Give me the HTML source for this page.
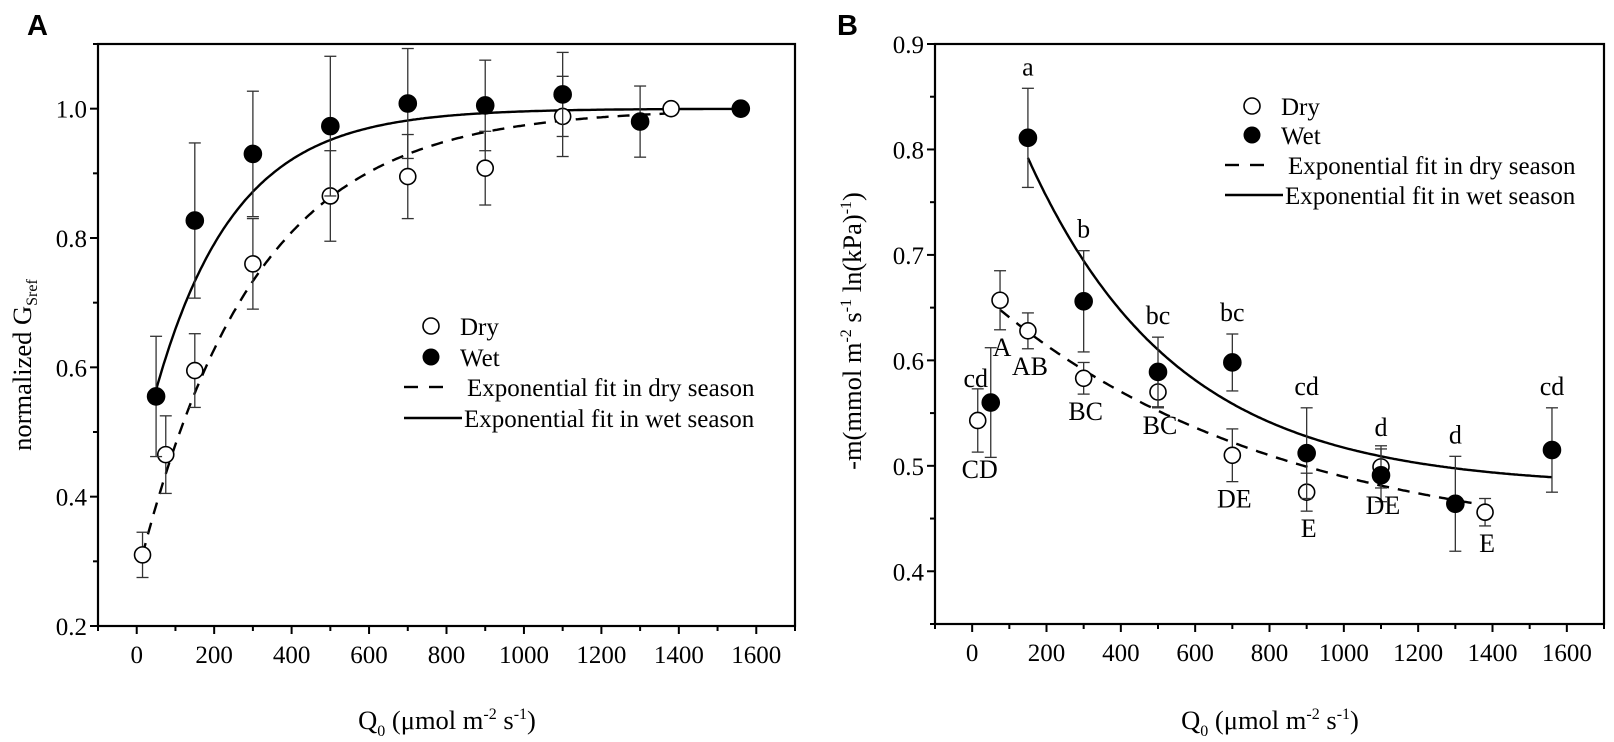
<!DOCTYPE html>
<html><head><meta charset="utf-8">
<style>
html,body{margin:0;padding:0;background:#fff;}
svg{display:block;font-family:"Liberation Serif",serif;}
.pl{font-family:"Liberation Sans",sans-serif;font-weight:bold;font-size:29px;}
</style></head>
<body>
<svg id="fig" width="1614" height="742" viewBox="0 0 1614 742" xmlns="http://www.w3.org/2000/svg"></svg>
<script>
// ---------- Panel A data ----------
const aDryX   = [15, 75, 150, 300, 500, 700, 900, 1100, 1380];
const aDryY   = [0.31, 0.465, 0.595, 0.76, 0.865, 0.895, 0.908, 0.988, 1.0];
const aDryErr = [0.035, 0.06, 0.057, 0.07, 0.07, 0.065, 0.057, 0.062, 0];
const aWetX   = [50, 150, 300, 500, 700, 900, 1100, 1300, 1560];
const aWetY   = [0.555, 0.827, 0.93, 0.973, 1.008, 1.005, 1.022, 0.98, 1.0];
const aWetErr = [0.093, 0.12, 0.097, 0.108, 0.085, 0.07, 0.065, 0.055, 0];
// fit params: y = c - a*exp(-x/t)  [c, a, t, xStart, xEnd]
const aDryFit = [1.0, 0.725, 300, 15, 1380];
const aWetFit = [1.0, 0.555, 205, 50, 1560];
const aYTicks = [0.2, 0.4, 0.6, 0.8, 1.0];
const aYLabels = ["0.2", "0.4", "0.6", "0.8", "1.0"];
// ---------- Panel B data ----------
const bDryX   = [15, 75, 150, 300, 500, 700, 900, 1100, 1380];
const bDryY   = [0.543, 0.657, 0.628, 0.583, 0.57, 0.51, 0.475, 0.499, 0.456];
const bDryErr = [0.03, 0.028, 0.017, 0.015, 0.015, 0.025, 0.018, 0.02, 0.013];
const bDryLab = ["CD", "A", "AB", "BC", "BC", "DE", "E", "DE", "E"];
const bWetX   = [50, 150, 300, 500, 700, 900, 1100, 1300, 1560];
const bWetY   = [0.56, 0.811, 0.656, 0.589, 0.598, 0.512, 0.491, 0.464, 0.515];
const bWetErr = [0.052, 0.047, 0.048, 0.033, 0.027, 0.043, 0.025, 0.045, 0.04];
const bWetLab = ["cd", "a", "b", "bc", "bc", "cd", "d", "d", "cd"];
// fit params: y = c + a*exp(-x/t)
const bDryFit = [0.42, 0.251, 780, 75, 1350];
const bWetFit = [0.48, 0.454, 400, 150, 1560];
const bYTicks = [0.4, 0.5, 0.6, 0.7, 0.8, 0.9];
const bYLabels = ["0.4", "0.5", "0.6", "0.7", "0.8", "0.9"];
const xTicks = [0, 200, 400, 600, 800, 1000, 1200, 1400, 1600];
const xLabels = ["0", "200", "400", "600", "800", "1000", "1200", "1400", "1600"];

const NS = "http://www.w3.org/2000/svg";
const svg = document.getElementById("fig");
function mk(tag, attrs, parent, text) {
  const e = document.createElementNS(NS, tag);
  for (const k in attrs) e.setAttribute(k, attrs[k]);
  if (text !== undefined) e.textContent = text;
  (parent || svg).appendChild(e);
  return e;
}

function panel(cfg) {
  const g = mk("g", {});
  
  
  const L = cfg.left, R = cfg.right, T = 44, B = cfg.bottom;
  const sx = v => L + (v - (-100)) / 1800 * (R - L);
  const sy = v => B - (v - cfg.ymin) / (cfg.ymax - cfg.ymin) * (B - T);
  const fr = mk("rect", {x: L, y: T, width: R - L, height: B - T, fill: "none", stroke: "#000", "stroke-width": 2.2}, g);
  
  
  for (let v = -100; v <= 1700; v += 100) {
    const major = v % 200 === 0;
    mk("line", {x1: sx(v), x2: sx(v), y1: B, y2: B + (major ? 8 : 5), stroke: "#000", "stroke-width": 2}, g);
  }
  xTicks.forEach((v, i) => {
    const t = mk("text", {x: sx(v), y: B + 37, "text-anchor": "middle", "font-size": 25}, g, xLabels[i]);
    
    
  });
  for (let v = cfg.ymin; v <= cfg.ymax + 1e-9; v += cfg.ystep / 2) {
    const major = cfg.yTicks.some(t => Math.abs(t - v) < 1e-6);
    mk("line", {x1: L - (major ? 8 : 5), x2: L, y1: sy(v), y2: sy(v), stroke: "#000", "stroke-width": 2}, g);
  }
  cfg.yTicks.forEach((v, i) => {
    const t = mk("text", {x: L - 11, y: sy(v) + 9, "text-anchor": "end", "font-size": 25}, g, cfg.yLabels[i]);
    
    
  });
  const xt = mk("text", {x: cfg.xTitleX, y: 729, "text-anchor": "middle", "font-size": 26.5}, g);
  
  
  xt.innerHTML = 'Q<tspan font-size="16" dy="7">0</tspan><tspan dy="-7"> (μmol m</tspan><tspan font-size="16" dy="-10">-2</tspan><tspan dy="10"> s</tspan><tspan font-size="16" dy="-10">-1</tspan><tspan dy="10">)</tspan>';
  const yt = mk("text", {transform: `translate(${cfg.yTitleX},${cfg.yTitleY}) rotate(-90)`, "text-anchor": "middle", "font-size": 26.5}, g);
  
  
  yt.innerHTML = cfg.yTitle;
  const pl = mk("text", {x: cfg.letterX, y: 35, class: "pl"}, g, cfg.letter);
  
  
  function fit(p, dashed, nm) {
    let d = "";
    for (let x = p[3]; x <= p[4] + 0.1; x += 5) {
      const y = cfg.fitFn(p, x);
      d += (d ? "L" : "M") + sx(x).toFixed(1) + "," + sy(y).toFixed(1);
    }
    const pa = mk("path", {d: d, fill: "none", stroke: "#000", "stroke-width": 2.4, "stroke-dasharray": dashed ? "12,9" : "none"}, g);
    
    
  }
  fit(cfg.dryFit, true, 'dry-fit-line');
  fit(cfg.wetFit, false, 'wet-fit-line');
  function series(xs, ys, es, filled, nm) {
    xs.forEach((x, i) => {
      if (es[i] > 0) {
        const eg = mk("g", {stroke: "#333", "stroke-width": 1.3}, g);
        
        
        const X = sx(x), y1 = sy(ys[i] + es[i]), y2 = sy(ys[i] - es[i]);
        mk("line", {x1: X, x2: X, y1: y1, y2: y2}, eg);
        mk("line", {x1: X - 6, x2: X + 6, y1: y1, y2: y1}, eg);
        mk("line", {x1: X - 6, x2: X + 6, y1: y2, y2: y2}, eg);
      }
    });
    xs.forEach((x, i) => {
      const c = mk("circle", {cx: sx(x), cy: sy(ys[i]), r: filled ? 8.5 : 8, fill: filled ? "#000" : "#fff", stroke: "#000", "stroke-width": 1.6}, g);
      
      
    });
  }
  series(cfg.dryX, cfg.dryY, cfg.dryErr, false, 'dry');
  series(cfg.wetX, cfg.wetY, cfg.wetErr, true, 'wet');
  if (cfg.dryLab) {
    cfg.dryX.forEach((x, i) => {
      const t = mk("text", {x: sx(x) + 2, y: sy(cfg.dryY[i] - cfg.dryErr[i]) + 26, "text-anchor": "middle", "font-size": 26}, g, cfg.dryLab[i]);
      
      
    });
    cfg.wetX.forEach((x, i) => {
      let X = sx(x), Y = sy(cfg.wetY[i] + cfg.wetErr[i]) - 13;
      if (i === 0) { X = sx(x) - 15; Y = sy(cfg.dryY[0] + cfg.dryErr[0]) - 2; }
      const t = mk("text", {x: X, y: Y, "text-anchor": "middle", "font-size": 26}, g, cfg.wetLab[i]);
      
      
    });
  }
  const lg = mk("g", {}, g);
  
  
  const lx = cfg.legX, lb = cfg.legY;
  const e1 = mk("g", {}, lg);  
  mk("circle", {cx: lx + 27, cy: lb[0] - 9, r: 8, fill: "#fff", stroke: "#000", "stroke-width": 1.6}, e1);
  mk("text", {x: lx + 56, y: lb[0], "font-size": 25}, e1, "Dry");
  const e2 = mk("g", {}, lg);  
  mk("circle", {cx: lx + 27, cy: lb[1] - 9, r: 8.5, fill: "#000"}, e2);
  mk("text", {x: lx + 56, y: lb[1], "font-size": 25}, e2, "Wet");
  const e3 = mk("g", {}, lg);  
  mk("line", {x1: lx, x2: lx + 14, y1: lb[2] - 9, y2: lb[2] - 9, stroke: "#000", "stroke-width": 2.4}, e3);
  mk("line", {x1: lx + 25, x2: lx + 39, y1: lb[2] - 9, y2: lb[2] - 9, stroke: "#000", "stroke-width": 2.4}, e3);
  mk("text", {x: lx + 63, y: lb[2], "font-size": 25}, e3, "Exponential fit in dry season");
  const e4 = mk("g", {}, lg);  
  mk("line", {x1: lx, x2: lx + 58, y1: lb[3] - 9, y2: lb[3] - 9, stroke: "#000", "stroke-width": 2.4}, e4);
  mk("text", {x: lx + 60, y: lb[3], "font-size": 25}, e4, "Exponential fit in wet season");
}

panel({
  name: "panel-a", letter: "A", letterX: 27, left: 98, right: 795, bottom: 626,
  ymin: 0.2, ymax: 1.1, ystep: 0.2, yTicks: aYTicks, yLabels: aYLabels,
  dryX: aDryX, dryY: aDryY, dryErr: aDryErr, wetX: aWetX, wetY: aWetY, wetErr: aWetErr,
  dryFit: aDryFit, wetFit: aWetFit,
  fitFn: (p, x) => p[0] - p[1] * Math.exp(-x / p[2]),
  xTitleX: 447, yTitleX: 31, yTitleY: 365,
  yTitle: 'normalized G<tspan font-size="16" dy="6">Sref</tspan>',
  legX: 404, legY: [335, 366, 396, 427]
});
panel({
  name: "panel-b", letter: "B", letterX: 837, left: 935, right: 1604, bottom: 624,
  ymin: 0.35, ymax: 0.9, ystep: 0.1, yTicks: bYTicks, yLabels: bYLabels,
  dryX: bDryX, dryY: bDryY, dryErr: bDryErr, wetX: bWetX, wetY: bWetY, wetErr: bWetErr,
  dryLab: bDryLab, wetLab: bWetLab,
  dryFit: bDryFit, wetFit: bWetFit,
  fitFn: (p, x) => p[0] + p[1] * Math.exp(-x / p[2]),
  xTitleX: 1270, yTitleX: 861, yTitleY: 331,
  yTitle: '-m(mmol m<tspan font-size="16" dy="-10">-2</tspan><tspan dy="10"> s</tspan><tspan font-size="16" dy="-10">-1</tspan><tspan dy="10"> ln(kPa)</tspan><tspan font-size="16" dy="-10">-1</tspan><tspan dy="10">)</tspan>',
  legX: 1225, legY: [115, 144, 174, 204]
});
</script>
</body></html>
